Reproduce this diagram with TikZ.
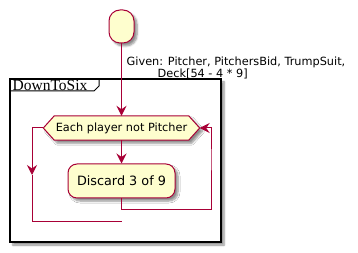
\documentclass[tikz,border=0pt]{standalone}
\usepackage{fontspec}
\setmainfont{DejaVu Sans}
\newfontfamily\framefont{Liberation Serif}
\usetikzlibrary{arrows.meta,shadows.blur,backgrounds}
\definecolor{nodefill}{HTML}{FEFECE}
\definecolor{nodeline}{HTML}{A80036}
\tikzset{
  softshadow/.style={blur shadow={shadow xshift=3pt,shadow yshift=-3pt,shadow blur radius=2pt,shadow blur steps=6,shadow opacity=45}},
  flow/.style={draw=nodeline,line width=1pt},
  arr/.style={-{Stealth[length=10pt,width=10pt,inset=3.5pt]}},
  actbox/.style={draw=nodeline,fill=nodefill,line width=1pt,rounded corners=9pt,softshadow,inner sep=0pt},
  smalltext/.style={font=\fontsize{11.3}{12.5}\selectfont},
}
\begin{document}
\begin{tikzpicture}[x=1pt,y=-1pt]
\useasboundingbox (0,0) rectangle (358,253);

% start
\node[actbox,rounded corners=11pt,minimum width=25pt,minimum height=33pt] (start) at (121.5,26.5) {};

% decision text and the activity
\node[smalltext,inner sep=0pt,minimum width=156pt,minimum height=24pt] (hex) at (121.5,128) {Each player not Pitcher};
\node[actbox,font=\fontsize{12.8}{14}\selectfont,minimum width=107pt,minimum height=34pt] (disc) at (121.5,181) {Discard 3 of 9};

\begin{scope}[on background layer]
  % DownToSix frame
  \draw[line width=1.5pt,fill=white,softshadow] (10,79) rectangle (221,242);
  \draw[line width=1pt] (10,91) -- (94,91) -- (99,86) -- (99,79);
  % decision hexagon
  \path[draw=nodeline,fill=nodefill,line width=1pt,softshadow]
    ([xshift=11pt]hex.north west) -- ([xshift=-11pt]hex.north east) -- (hex.east)
    -- ([xshift=-11pt]hex.south east) -- ([xshift=11pt]hex.south west) -- (hex.west) -- cycle;
\end{scope}
\node[font=\framefont\fontsize{15.5}{16}\selectfont,anchor=west,inner sep=0pt] (frametitle) at (12.5,85.5) {DownToSix};

% incoming flow with its label
\draw[flow,arr] (start.south) -- (hex.north);
\node[smalltext,anchor=west,align=left,inner sep=0pt] (given) at (126.5,68)
  {Given: Pitcher, PitchersBid, TrumpSuit,\\\hspace*{31pt}Deck[54 - 4 * 9]};

% loop body
\draw[flow,arr] (hex.south) -- (disc.north);
\coordinate (bodyturn) at (211,210);
\coordinate (bodyup) at (211,171);
\draw[flow] (disc.south) |- (bodyturn) -- (bodyup);
\draw[flow,arr] (bodyup) -- ++(0,-1) |- (hex.east);

% loop exit
\coordinate (exitdown) at (32,175);
\coordinate (exitcorner) at (32,222);
\coordinate (exitend) at (122,222);
\draw[flow,arr] (hex.west) -| (exitdown);
\draw[flow] (exitdown) -- (exitcorner) -- (exitend);
\end{tikzpicture}
\end{document}
